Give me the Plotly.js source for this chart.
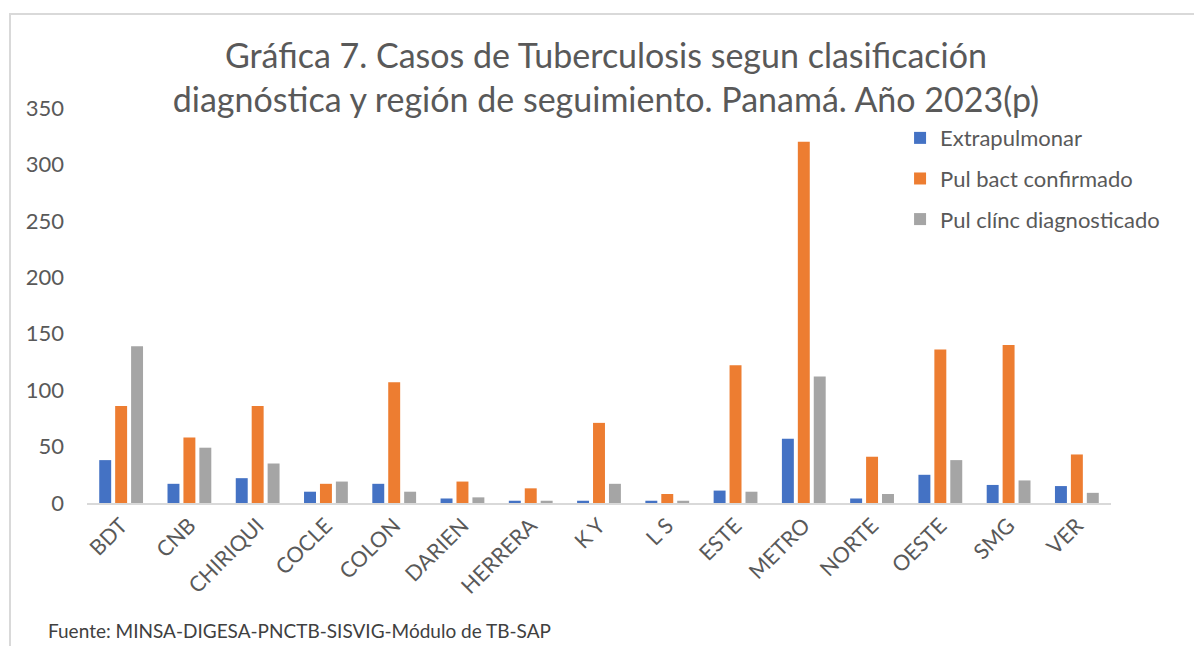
<!DOCTYPE html>
<html>
<head>
<meta charset="utf-8">
<script src="https://cdn.plot.ly/plotly-3.0.1.min.js"></script>
<style>
  html, body { margin: 0; padding: 0; background: #ffffff; }
  #wrap { position: relative; width: 1194px; height: 646px; overflow: hidden; }
  #frame { position: absolute; left: 9px; top: 13px; width: 1300px; height: 800px;
           border: 2px solid #d9d9d9; box-sizing: border-box; }
  #chart { position: absolute; left: 0; top: 0; width: 1194px; height: 646px; }
</style>
</head>
<body>
<div id="wrap">
  <div id="frame"></div>
  <div id="chart"></div>
</div>
<script>
const regions = ["BDT", "CNB", "CHIRIQUI", "COCLE", "COLON", "DARIEN", "HERRERA", "K Y", "L S", "ESTE", "METRO", "NORTE", "OESTE", "SMG", "VER"];
const seriesNames = ["Extrapulmonar", "Pul bact confirmado", "Pul clínc diagnosticado"];
const extrapulmonar = [38, 17, 22, 10, 17, 4, 2, 2, 2, 11, 57, 4, 25, 16, 15];
const pulBactConfirmado = [86, 58, 86, 17, 107, 19, 13, 71, 8, 122, 320, 41, 136, 140, 43];
const pulClincDiagnosticado = [139, 49, 35, 19, 10, 5, 2, 17, 2, 10, 112, 8, 38, 20, 9];
const yTicks = [0, 50, 100, 150, 200, 250, 300, 350];
const titleLines = ["Gráfica 7. Casos de Tuberculosis segun clasificación", "diagnóstica y región de seguimiento. Panamá. Año 2023(p)"];
const sourceNote = "Fuente: MINSA-DIGESA-PNCTB-SISVIG-Módulo de TB-SAP";
const colors = ["#4472C4", "#ED7D31", "#A5A5A5"];

const FONT = "Lato, 'Open Sans', sans-serif";
const allValues = [extrapulmonar, pulBactConfirmado, pulClincDiagnosticado];

const traces = allValues.map((vals, i) => ({
  type: "bar",
  name: seriesNames[i],
  x: regions,
  y: vals,
  legendgroup: "g" + i,
  marker: { color: colors[i], line: { width: 0 } },
  hoverinfo: "x+y+name"
}));

const layout = {
  width: 1194,
  height: 646,
  paper_bgcolor: "rgba(0,0,0,0)",
  plot_bgcolor: "rgba(0,0,0,0)",
  margin: { l: 87, r: 83, t: 108, b: 143, pad: 0 },
  font: { family: FONT, color: "#595959", size: 22 },
  title: {
    text: titleLines.join("<br>"),
    font: { family: FONT, size: 34, color: "#595959" },
    xref: "container", yref: "container",
    x: 0.5075, xanchor: "center",
    y: 1 - 68 / 646, yanchor: "top"
  },
  barmode: "group",
  bargap: 0.3,
  bargroupgap: 0.25,
  xaxis: {
    type: "category",
    tickangle: -45,
    showgrid: false,
    showline: true,
    linecolor: "#d9d9d9",
    linewidth: 1.5,
    ticks: "",
    tickfont: { family: FONT, size: 21.5, color: "#595959" },
    zeroline: false,
    fixedrange: true
  },
  yaxis: {
    range: [0, 350],
    tickvals: yTicks,
    ticktext: yTicks.map(String),
    showgrid: false,
    zeroline: false,
    showline: false,
    ticks: "",
    ticklabelstandoff: 22,
    tickfont: { family: FONT, size: 22, color: "#595959" },
    fixedrange: true
  },
  legend: {
    x: 0.794, xanchor: "left",
    y: 0.977, yanchor: "top",
    bgcolor: "rgba(0,0,0,0)",
    font: { family: FONT, size: 22, color: "#595959" },
    tracegroupgap: 9,
    traceorder: "grouped"
  },
  showlegend: true,
  annotations: [{
    text: sourceNote,
    xref: "paper", yref: "paper",
    x: -0.04, xanchor: "left",
    y: -0.323, yanchor: "middle",
    showarrow: false,
    font: { family: FONT, size: 19, color: "#404040" }
  }]
};

Plotly.newPlot("chart", traces, layout, { displayModeBar: false, staticPlot: true });
</script>
</body>
</html>
